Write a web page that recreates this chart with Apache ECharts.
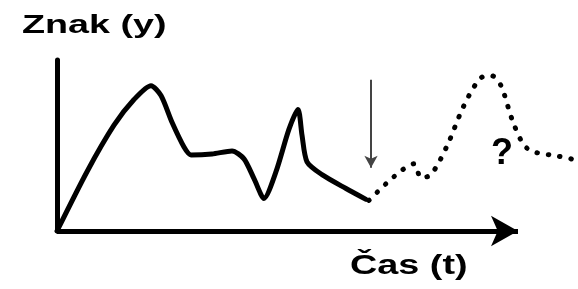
<!DOCTYPE html>
<html>
<head>
<meta charset="utf-8">
<script src="https://cdn.jsdelivr.net/npm/echarts@6/dist/echarts.min.js"></script>
<style>
  html, body { margin: 0; padding: 0; background: #fff; }
  #chart { width: 578px; height: 289px; }
</style>
</head>
<body>
<div id="chart"></div>
<script>
// measured signal (solid)
const signalTime = [0, 30, 57, 77, 94, 104, 115, 127, 134, 155, 175, 187, 197, 207, 219, 232, 241, 245, 250, 265, 289, 309]
const signalValue = [0, 60, 107, 133, 147, 137, 110, 85, 77, 78, 81, 73, 53, 33, 60, 103, 123, 97, 70, 57, 43, 32]

// unknown future (dotted)
const futureTime = [312, 337, 357, 364, 374, 390, 407, 424, 435, 444, 455, 465, 474, 499, 514, 520]
const futureValue = [31, 55, 68, 54, 57, 86, 127, 155, 157, 147, 113, 90, 81, 76, 73, 67]

const yTitle = 'Znak (y)'
const xTitle = 'Čas (t)'
const nowTime = 314

const zip = (xs, ys) => xs.map((x, i) => [x, ys[i]])

const chart = echarts.init(document.getElementById('chart'), null, { renderer: 'canvas' })

const font = '"Liberation Sans", Arial, sans-serif'

chart.setOption({
  backgroundColor: '#fff',
  animation: false,
  grid: { left: 57, right: 1, top: 60, bottom: 58 },
  xAxis: {
    type: 'value',
    min: 0,
    max: 520,
    axisLine: { show: false },
    axisTick: { show: false },
    axisLabel: { show: false },
    splitLine: { show: false },
  },
  yAxis: {
    type: 'value',
    min: 0,
    max: 173,
    axisLine: { show: true, lineStyle: { color: '#000', width: 5 } },
    axisTick: { show: false },
    axisLabel: { show: false },
    splitLine: { show: false },
  },
  series: [
    {
      type: 'line',
      data: zip(signalTime, signalValue),
      smooth: 0.25,
      symbol: 'none',
      clip: false,
      lineStyle: { color: '#000', width: 5, cap: 'round', join: 'round' },
      markLine: {
        silent: true,
        animation: false,
        label: { show: false },
        data: [
          [
            { coord: [0, 0], symbol: 'none' },
            { coord: [461, 0], symbol: 'arrow', symbolSize: [23, 27] },
          ],
        ],
        lineStyle: { color: '#000', width: 5, type: 'solid' },
      },
      z: 3,
    },
    {
      type: 'line',
      data: zip(futureTime, futureValue),
      smooth: 0.3,
      symbol: 'none',
      clip: false,
      lineStyle: { color: '#000', width: 5, type: [0.5, 11], cap: 'round' },
      markLine: {
        silent: true,
        animation: false,
        label: { show: false },
        data: [
          [
            { coord: [nowTime, 153], symbol: 'none' },
            { coord: [nowTime, 64], symbol: 'arrow', symbolSize: [10, 12] },
          ],
        ],
        lineStyle: { color: '#444', width: 2, type: 'solid' },
      },
      z: 3,
    },
  ],
  graphic: [
    {
      type: 'text',
      x: 22,
      y: 39,
      scaleX: 1.45,
      style: { text: yTitle, font: 'bold 26px ' + font, fill: '#000', textAlign: 'left', textVerticalAlign: 'bottom' },
    },
    {
      type: 'text',
      x: 350,
      y: 280,
      scaleX: 1.4,
      style: { text: xTitle, font: 'bold 27px ' + font, fill: '#000', textAlign: 'left', textVerticalAlign: 'bottom' },
    },
    {
      type: 'text',
      x: 491,
      y: 172,
      style: { text: '?', font: 'bold 36px ' + font, fill: '#000', textAlign: 'left', textVerticalAlign: 'bottom' },
    },
  ],
})
</script>
</body>
</html>
